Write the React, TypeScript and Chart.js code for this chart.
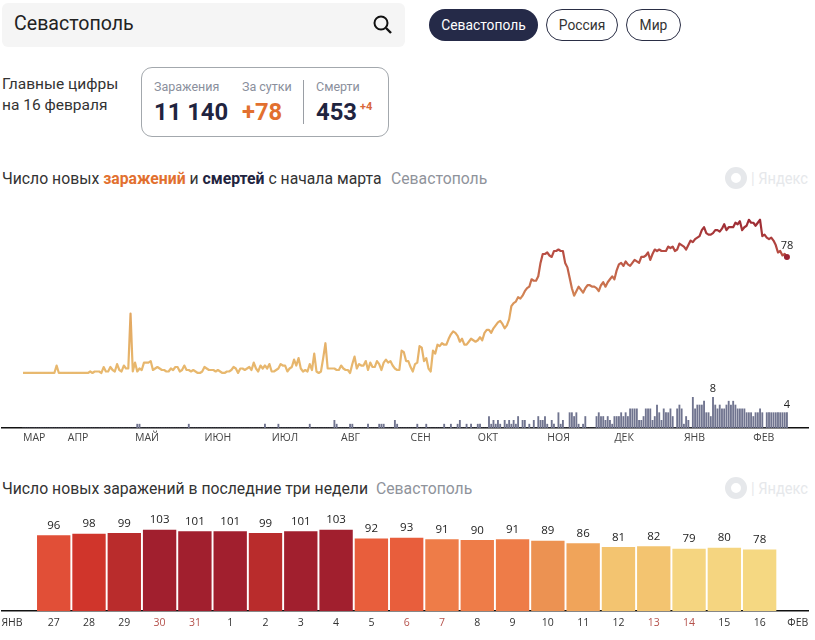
import React, { useEffect, useRef } from "react";
import { Chart, registerables } from "chart.js";

Chart.register(...registerables);

const FONT = '"Open Sans", sans-serif';
const UI_FONT = 'Roboto, sans-serif';

// Daily new infections, 12 March 2020 (index 0) to 16 February 2021 (index 341)
const infections: number[] = [
  0,0,0,0,0,0,0,0,0,0,
  0,0,0,0,0,5,0,0,0,0,
  0,0,0,0,0,0,0,0,0,0,
  1,0,1,1,1,0,4,1,1,4,
  2,1,6,2,1,5,3,3,40,1,
  7,1,3,2,7,7,7,8,2,3,
  4,3,2,2,1,1,3,2,4,4,
  1,2,5,2,2,1,2,1,0,0,
  1,4,3,2,2,2,1,2,1,0,
  0,1,1,2,4,3,0,3,3,2,
  3,4,2,7,3,1,5,3,5,3,
  6,1,1,2,3,6,5,5,1,3,
  4,9,5,10,3,1,2,1,6,2,
  13,1,0,1,10,20,3,3,3,3,
  2,2,5,3,2,2,0,6,11,3,
  6,5,5,8,2,7,4,4,8,6,
  2,7,9,7,8,5,3,2,2,15,
  14,8,8,4,1,6,7,18,17,8,
  10,3,1,15,13,19,18,20,19,19,
  23,26,28,27,25,21,23,19,19,21,
  23,22,21,22,24,22,27,29,29,27,
  30,32,34,35,33,30,32,36,45,47,
  48,51,50,52,55,57,58,63,62,62,
  65,74,80,80,81,79,78,82,82,83,
  82,82,74,71,64,57,52,55,58,56,
  54,57,59,59,58,58,57,55,59,61,
  58,61,63,65,63,69,73,74,72,75,
  73,72,74,76,75,74,78,78,79,81,
  76,80,83,82,83,82,82,82,85,84,
  85,82,83,87,86,85,83,86,89,88,
  90,91,92,96,98,94,93,93,94,96,
  96,95,97,100,96,98,98,98,101,100,
  102,96,98,99,103,101,101,99,101,103,
  92,93,91,90,91,89,86,81,82,79,
  80,78,
];

// Daily deaths, same days
const deaths: number[] = [
  0,0,0,0,0,0,0,0,0,0,
  0,0,0,0,0,0,0,0,0,0,
  0,0,0,0,0,0,0,0,0,0,
  0,0,0,0,0,0,0,0,0,0,
  0,0,0,0,0,0,0,0,0,0,
  0,1,1,0,0,0,0,0,0,0,
  0,0,0,0,0,0,0,0,0,0,
  0,0,0,0,1,0,0,0,0,0,
  0,0,0,0,0,0,0,0,0,0,
  0,0,0,0,0,0,0,0,0,0,
  0,0,0,0,0,0,0,0,1,0,
  0,0,0,0,1,0,0,0,0,0,
  0,0,0,0,0,0,0,0,1,0,
  0,0,0,0,0,0,0,0,0,2,
  1,0,0,0,0,0,1,1,0,0,
  0,0,0,0,1,0,0,0,0,1,
  1,1,0,0,0,0,2,1,0,0,
  0,0,0,0,0,0,1,0,0,0,
  1,0,0,0,0,0,0,0,1,0,
  0,1,0,0,1,2,0,0,1,0,
  1,0,0,1,1,0,0,0,3,1,
  2,1,2,1,0,2,1,2,1,2,
  1,3,0,2,2,0,1,0,2,0,
  3,2,2,3,1,0,2,1,0,4,
  1,2,0,0,4,4,3,4,1,0,
  1,3,0,0,0,0,3,4,3,3,
  2,3,2,1,3,3,3,4,3,4,
  3,5,5,5,5,2,2,3,5,5,
  5,2,3,6,4,2,5,4,4,5,
  3,0,5,6,5,1,3,2,0,8,
  5,6,6,6,7,4,4,3,8,6,
  5,6,5,5,6,7,6,7,6,5,
  5,5,5,4,4,4,3,4,4,5,
  4,0,4,4,4,4,4,4,4,4,
  4,4,
];

const monthNames = ["МАР", "АПР", "МАЙ", "ИЮН", "ИЮЛ", "АВГ", "СЕН", "ОКТ", "НОЯ", "ДЕК", "ЯНВ", "ФЕВ"];
const monthStarts = [0, 20, 50, 81, 111, 142, 173, 203, 234, 264, 295, 326];

const lastDays = ["27","28","29","30","31","1","2","3","4","5","6","7","8","9","10","11","12","13","14","15","16"];
const lastValues = [96,98,99,103,101,101,99,101,103,92,93,91,90,91,89,86,81,82,79,80,78];
const lastColors = [
  "#e14f37","#d0352b","#b92c2c","#a11f2e","#a11f2e","#a11f2e","#b92c2c","#a11f2e","#a11f2e",
  "#e85e3c","#e85e3c","#ee7c48","#ee7c48","#ee7c48","#ec9252","#f0a45a","#f3c470","#f3c470",
  "#f5d580","#f5d580","#f5d882",
];
const holidays = ["30","31","6","7","13","14"];
const edgeLabels = ["ЯНВ", "ФЕВ"];
const edgePositions = [-1.18, 21.08];

function LineChart() {
  const ref = useRef<HTMLCanvasElement>(null);
  useEffect(() => {
    const labelPlugin = {
      id: "endLabels",
      afterDatasetsDraw(chart: any) {
        const { ctx, scales } = chart;
        ctx.save();
        ctx.font = `11px ${FONT}`;
        ctx.fillStyle = "#222";
        ctx.textAlign = "center";
        ctx.textBaseline = "middle";
        const last = infections.length - 1;
        ctx.fillText(String(infections[last]), scales.x.getPixelForValue(last), scales.y.getPixelForValue(infections[last]) - 11);
        const top = Math.max(...deaths);
        const topIndex = deaths.lastIndexOf(top);
        ctx.fillText(String(top), scales.x.getPixelForValue(topIndex), scales.y2.getPixelForValue(top) - 8);
        ctx.fillText(String(deaths[last]), scales.x.getPixelForValue(last), scales.y2.getPixelForValue(deaths[last]) - 8);
        ctx.restore();
      },
    };
    const chart = new Chart(ref.current!, {
      type: "line",
      plugins: [labelPlugin],
      data: {
        datasets: [
          {
            type: "line",
            data: infections.map((y, x) => ({ x, y })),
            yAxisID: "y",
            borderWidth: 2.2,
            tension: 0,
            borderJoinStyle: "round",
            clip: false,
            pointRadius: (c: any) => (c.dataIndex === infections.length - 1 ? 3 : 0),
            pointBackgroundColor: "#9c2433",
            pointBorderWidth: 0,
            borderColor: (c: any) => {
              const { chart: ch } = c;
              const s = ch.scales.y;
              const y0 = s ? s.getPixelForValue(0) : NaN;
              const y1 = s ? s.getPixelForValue(103) : NaN;
              if (!ch.chartArea || !Number.isFinite(y0) || !Number.isFinite(y1)) return "#e2a660";
              const g = ch.ctx.createLinearGradient(0, y0, 0, y1);
              g.addColorStop(0, "#e8b96f");
              g.addColorStop(0.4, "#e2a660");
              g.addColorStop(0.55, "#cc7750");
              g.addColorStop(0.8, "#b64a42");
              g.addColorStop(1, "#9c2a33");
              return g;
            },
          },
          {
            type: "bar",
            data: deaths.map((y, x) => ({ x, y })),
            yAxisID: "y2",
            backgroundColor: "#70748f",
            barThickness: 1.2,
            borderWidth: 0,
          },
        ],
      } as any,
      options: {
        animation: false,
        responsive: false,
        events: [],
        layout: { autoPadding: false, padding: { left: 2, right: 7, top: 0, bottom: 0 } },
        plugins: { legend: { display: false }, tooltip: { enabled: false } },
        scales: {
          x: {
            type: "linear",
            offset: false,
            min: -9.375,
            max: 350.4,
            grid: { display: false, drawTicks: false },
            border: { display: true, color: "#111", width: 1.5 },
            afterBuildTicks: (s: any) => {
              s.ticks = monthStarts.map((value) => ({ value }));
            },
            afterFit: (s: any) => {
              s.height = 22;
              s.paddingLeft = 0;
              s.paddingRight = 0;
            },
            ticks: {
              autoSkip: false,
              maxRotation: 0,
              align: "start",
              padding: 4,
              color: "#444",
              font: { family: FONT, size: 10.5 },
              callback: (v: any) => monthNames[monthStarts.indexOf(v)],
            },
          },
          y: { display: false, min: -37, max: 116.3 },
          y2: { display: false, min: 0, max: 59.5 },
        },
      } as any,
    });
    return () => chart.destroy();
  }, []);
  return <canvas ref={ref} width={815} height={250} style={{ position: "absolute", left: 0, top: 200, display: "block" }} />;
}

function RecentChart() {
  const ref = useRef<HTMLCanvasElement>(null);
  useEffect(() => {
    const labelPlugin = {
      id: "barLabels",
      afterDatasetsDraw(chart: any) {
        const { ctx, scales } = chart;
        ctx.save();
        ctx.font = `11.5px ${FONT}`;
        ctx.fillStyle = "#222";
        ctx.textAlign = "center";
        ctx.textBaseline = "middle";
        lastValues.forEach((v, i) => {
          ctx.fillText(String(v), scales.x.getPixelForValue(i), scales.y.getPixelForValue(v) - 10);
        });
        ctx.restore();
      },
    };
    const tickText = (v: number) => {
      const e = edgePositions.indexOf(v);
      return e >= 0 ? edgeLabels[e] : lastDays[v];
    };
    const chart = new Chart(ref.current!, {
      type: "bar",
      plugins: [labelPlugin],
      data: {
        datasets: [
          {
            data: lastValues.map((y, x) => ({ x, y })),
            backgroundColor: lastColors,
            barThickness: 32.7,
            borderWidth: 0,
          },
        ],
      } as any,
      options: {
        animation: false,
        responsive: false,
        events: [],
        layout: { autoPadding: false, padding: { left: 2, right: 7, top: 0, bottom: 0 } },
        plugins: { legend: { display: false }, tooltip: { enabled: false } },
        scales: {
          x: {
            type: "linear",
            offset: false,
            min: -1.465,
            max: 21.37,
            grid: { display: false, drawTicks: false },
            border: { display: true, color: "#111", width: 1.5 },
            afterBuildTicks: (s: any) => {
              s.ticks = [edgePositions[0], ...lastDays.map((_, i) => i), edgePositions[1]].map((value) => ({ value }));
            },
            afterFit: (s: any) => {
              s.height = 29;
              s.paddingLeft = 0;
              s.paddingRight = 0;
            },
            ticks: {
              autoSkip: false,
              maxRotation: 0,
              padding: 6,
              font: { family: FONT, size: 10.5 },
              color: (c: any) => (holidays.includes(tickText(c.tick.value)) ? "#b5524c" : "#333"),
              callback: (v: any) => tickText(v),
            },
          },
          y: { display: false, min: 0, max: 135 },
        },
      } as any,
    });
    return () => chart.destroy();
  }, []);
  return <canvas ref={ref} width={815} height={135} style={{ position: "absolute", left: 0, top: 505, display: "block" }} />;
}

const abs = (left: number, top: number, extra: React.CSSProperties = {}): React.CSSProperties => ({
  position: "absolute",
  left,
  top,
  whiteSpace: "nowrap",
  ...extra,
});

function Watermark({ top }: { top: number }) {
  return (
    <>
      <div style={abs(725, top - 11, { width: 22, height: 22, boxSizing: "border-box", borderRadius: "50%", border: "6px solid #e6e8eb" })} />
      <div style={abs(751, top - 11, { fontFamily: UI_FONT, fontSize: 17, lineHeight: "22px", color: "#e6e8eb", transform: "scaleX(0.86)", transformOrigin: "left" })}>| Яндекс</div>
    </>
  );
}

function Pill({ left, width, text, on }: { left: number; width: number; text: string; on?: boolean }) {
  return (
    <div
      style={abs(left, 9, {
        width,
        height: 32,
        boxSizing: "border-box",
        borderRadius: 16,
        border: on ? "none" : "1px solid #2a2e45",
        background: on ? "#252a48" : "#fff",
        color: on ? "#fff" : "#333",
        fontFamily: UI_FONT,
        fontSize: 13.8,
        lineHeight: on ? "32px" : "30px",
        textAlign: "center",
      })}
    >
      {text}
    </div>
  );
}

export default function App() {
  const titleStyle = { fontFamily: UI_FONT, fontSize: 15.75, lineHeight: "20px", color: "#333" };
  const smallLabel = { fontFamily: UI_FONT, fontSize: 12.5, lineHeight: "16px", color: "#8a8f9c" };
  const big = { fontFamily: UI_FONT, fontSize: 23.8, fontWeight: 700, lineHeight: "28px" };
  return (
    <div style={{ position: "absolute", left: 0, top: 0, width: 815, height: 640, background: "#fff", overflow: "hidden" }}>
      <div style={abs(2, 3, { width: 403, height: 44, borderRadius: 6, background: "#f5f5f5" })} />
      <div style={abs(14, 11, { fontFamily: UI_FONT, fontSize: 19.6, lineHeight: "26px", color: "#222" })}>Севастополь</div>
      <svg width="24" height="24" style={abs(371, 13)}>
        <circle cx="10" cy="10" r="6.5" fill="none" stroke="#111" strokeWidth="2" />
        <line x1="15" y1="15" x2="20" y2="20" stroke="#111" strokeWidth="2.4" />
      </svg>
      <Pill left={429} width={109} text="Севастополь" on />
      <Pill left={546} width={72} text="Россия" />
      <Pill left={626} width={55} text="Мир" />

      <div style={abs(2, 74, { fontFamily: UI_FONT, fontSize: 15.5, lineHeight: "21px", color: "#333" })}>
        Главные цифры
        <br />
        на 16 февраля
      </div>
      <div style={abs(141, 67, { width: 248, height: 70, boxSizing: "border-box", border: "1px solid #a3a8ad", borderRadius: 11 })} />
      <div style={abs(154, 79, smallLabel)}>Заражения</div>
      <div style={abs(242, 79, smallLabel)}>За сутки</div>
      <div style={abs(316, 79, smallLabel)}>Смерти</div>
      <div style={abs(154, 98, { ...big, color: "#1f2440" })}>11 140</div>
      <div style={abs(242, 98, { ...big, color: "#e2702f" })}>+78</div>
      <div style={abs(316, 98, { ...big, color: "#1f2440" })}>453</div>
      <div style={abs(360, 100, { fontFamily: UI_FONT, fontSize: 11, fontWeight: 700, lineHeight: "14px", color: "#d9683a" })}>+4</div>
      <div style={abs(303, 80, { width: 1, height: 44, background: "#9a9ea5" })} />

      <div style={abs(2, 169, titleStyle)}>
        Число новых <b style={{ color: "#e2702f" }}>заражений</b> и <b style={{ color: "#1f2440" }}>смертей</b> с начала марта
      </div>
      <div style={abs(391, 169, { ...titleStyle, color: "#8f939b" })}>Севастополь</div>
      <Watermark top={178} />
      <LineChart />

      <div style={abs(2, 479, titleStyle)}>Число новых заражений в последние три недели</div>
      <div style={abs(376, 479, { ...titleStyle, color: "#8f939b" })}>Севастополь</div>
      <Watermark top={488} />
      <RecentChart />
    </div>
  );
}
